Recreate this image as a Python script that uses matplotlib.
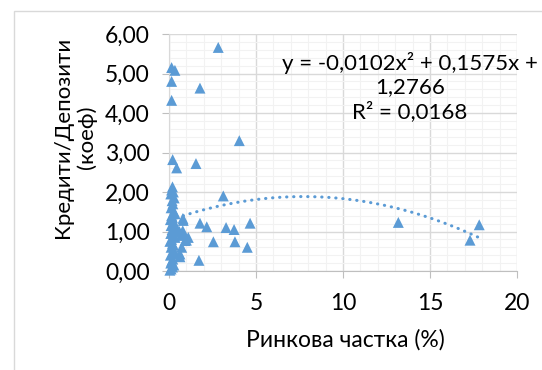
import matplotlib
matplotlib.use("Agg")
import matplotlib.pyplot as plt
import numpy as np
from matplotlib.patches import Rectangle
from matplotlib.ticker import MultipleLocator, FuncFormatter

plt.rcParams['font.family'] = ['Lato', 'Open Sans', 'DejaVu Sans']

# Market share (%) and loans/deposits ratio
market_share = [
    2.83, 0.15, 0.34, 0.15, 1.78, 0.15, 4.04, 0.21, 0.44, 1.55, 3.12,
    0.82, 1.78, 2.17, 3.28, 3.74, 4.66, 1.11, 0.92, 2.55, 3.79, 4.50,
    0.63, 1.72, 0.79, 13.18, 17.30, 17.83,
    0.80, 0.73, 0.63, 0.80, 1.00, 0.60, 0.70,
    # dense cluster near zero
    0.20, 0.15, 0.25, 0.10, 0.30, 0.18, 0.22, 0.12, 0.28, 0.35,
    0.15, 0.20, 0.08, 0.25, 0.30, 0.12, 0.40, 0.18, 0.22, 0.10,
    0.28, 0.35, 0.15, 0.05, 0.20, 0.25, 0.12, 0.30, 0.18, 0.08,
    0.22, 0.15, 0.10, 0.28, 0.20, 0.12, 0.05,
]
loan_deposit = [
    5.66, 5.15, 5.08, 4.80, 4.63, 4.32, 3.30, 2.82, 2.61, 2.72, 1.90,
    1.28, 1.21, 1.12, 1.10, 1.05, 1.21, 0.85, 0.77, 0.74, 0.74, 0.60,
    0.36, 0.27, 1.02, 1.23, 0.78, 1.17,
    1.33, 0.60, 0.43, 0.94, 0.78, 1.00, 0.90,
    2.13, 2.05, 2.00, 1.95, 1.85, 1.78, 1.70, 1.60, 1.50, 1.45,
    1.40, 1.35, 1.30, 1.25, 1.20, 1.15, 1.10, 1.05, 1.00, 0.95,
    0.90, 0.85, 0.80, 0.75, 0.70, 0.65, 0.60, 0.50, 0.45, 0.40,
    0.30, 0.25, 0.20, 0.15, 0.10, 0.05, 0.02,
]

# Polynomial trendline coefficients (order 2) as shown in the chart
trend_a, trend_b, trend_c = -0.0102, 0.1575, 1.2766
equation_text = "y = -0,0102x² + 0,1575x +\n1,2766\nR² = 0,0168"

x_label = "Ринкова частка (%)"
y_label = "Кредити/Депозити\n(коеф)"

blue = "#5B9BD5"
W, H = 542, 370
fig = plt.figure(figsize=(W / 100, H / 100), dpi=100)
fig.patch.set_facecolor("white")

# chart area border (left/top visible)
fig.patches.append(Rectangle((14 / W, -0.1), 2, 1 - 11 / H + 0.1,
                             transform=fig.transFigure, fill=False,
                             edgecolor="#d9d9d9", linewidth=1.0))

ax = fig.add_axes([169 / W, 1 - 271 / H, (517 - 169) / W, (271 - 34) / H])
ax.set_xlim(0, 20)
ax.set_ylim(0, 6)

ax.xaxis.set_major_locator(MultipleLocator(5))
ax.yaxis.set_major_locator(MultipleLocator(1))
ax.xaxis.set_minor_locator(MultipleLocator(1))
ax.yaxis.set_minor_locator(MultipleLocator(0.2))
ax.yaxis.set_major_formatter(FuncFormatter(lambda v, p: f"{v:.2f}".replace(".", ",")))
ax.xaxis.set_major_formatter(FuncFormatter(lambda v, p: f"{v:.0f}"))

ax.grid(which="major", color="#d9d9d9", linewidth=1.0, zorder=0)
ax.grid(which="minor", color="#f2f2f2", linewidth=0.8, zorder=0)
ax.set_axisbelow(True)

for s in ["top", "right"]:
    ax.spines[s].set_visible(False)
ax.spines["left"].set_color("#d9d9d9")
ax.spines["bottom"].set_color("#bfbfbf")
ax.tick_params(which="major", length=5, color="#bfbfbf", labelsize=16.5,
               labelcolor="black")
ax.tick_params(axis="y", pad=9)
ax.tick_params(axis="x", pad=11)
ax.tick_params(which="minor", length=0)

ax.scatter(market_share, loan_deposit, marker="^", s=62, color=blue,
           edgecolors="none", zorder=3, clip_on=False)

xs = np.linspace(min(market_share), max(market_share), 200)
ys = trend_a * xs ** 2 + trend_b * xs + trend_c
ax.plot(xs, ys, color=blue, linewidth=2.2, linestyle=(0, (0.1, 2.2)),
        dash_capstyle="round", zorder=4)

fig.text(410 / W, 1 - 87 / H, equation_text, ha="center", va="center",
         fontsize=16, linespacing=1.2, color="black")

fig.text(75 / W, 1 - 137 / H, y_label, rotation=90, ha="center",
         va="center", fontsize=16, linespacing=1.15)
fig.text(345 / W, 1 - 340 / H, x_label, ha="center", va="center",
         fontsize=16.5)

fig.savefig("out.png", dpi=100, facecolor="white")
